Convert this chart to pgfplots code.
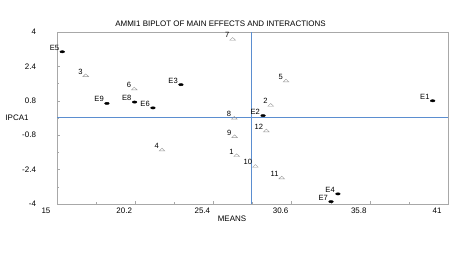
\documentclass[border=0pt]{standalone}
\usepackage{pgfplots}
\pgfplotsset{compat=1.18}
\usepackage{pgfplotstable}
\usepackage{fontspec}
\setmainfont{Liberation Sans}
\definecolor{refblue}{RGB}{91,142,208}
\definecolor{axframe}{RGB}{168,168,168}
\definecolor{trigray}{RGB}{154,154,154}
\pgfplotstableread{
x y lab
16.91 1.97 3
20.14 1.35 6
26.68 3.66 7
30.23 1.72 5
29.21 0.59 2
26.79 -0.01 8
28.92 -0.60 12
26.81 -0.87 9
26.95 -1.75 1
28.19 -2.25 10
29.94 -2.79 11
21.98 -1.49 4
}\genotypes
\pgfplotstableread{
x y lab
15.35 3.08 E5
23.24 1.55 E3
18.32 0.68 E9
20.16 0.74 E8
21.38 0.47 E6
28.70 0.11 E2
39.98 0.80 E1
33.68 -3.53 E4
33.22 -3.89 E7
}\envs
\begin{document}
\begin{tikzpicture}[x=1bp,y=1bp]
\path[use as bounding box] (0,0) rectangle (473,253);
\begin{axis}[
  at={(57bp,49bp)}, anchor=south west,
  scale only axis, width=391bp, height=172bp,
  xmin=15, xmax=41, ymin=-4, ymax=4,
  xtick={15,20.2,25.4,30.6,35.8,41},
  xticklabels={15,20.2,25.4,30.6,35.8,41},
  ytick={-4,-2.4,-0.8,0.8,2.4,4},
  yticklabels={{-4\hspace{-4.3bp}},-2.4,-0.8,0.8,2.4,{4\hspace{-7bp}}},
  minor x tick num=1, minor y tick num=1,
  xtick pos=left, ytick pos=left,
  tick align=inside,
  major tick length=3bp, minor tick length=2bp,
  axis line style={color=axframe, line width=0.7bp},
  every tick/.style={color=axframe, line width=0.4bp},
  tick label style={font=\fontsize{8}{9.6}\selectfont, text=black},
  xticklabel style={xshift=-11bp},
  yticklabel style={xshift=-17.5bp},
  clip=false,
  every node near coord/.style={anchor=base east, inner sep=0pt, xshift=-3bp, yshift=1.5bp, font=\fontsize{7.6}{9}\selectfont, text=black},
]
\addplot[color=refblue, line width=1.2bp, no marks] coordinates {(27.94,-4) (27.94,4)};
\addplot[color=refblue, line width=1.2bp, no marks] coordinates {(15,0.03) (41,0.03)};
\addplot[only marks, mark=triangle, mark size=3.3bp, mark options={color=trigray, line width=0.4bp, yscale=0.55},
  nodes near coords, point meta=explicit symbolic] table[x=x, y=y, meta=lab] {\genotypes};
\addplot[only marks, mark=*, mark size=1.3bp, mark options={color=black, xscale=1.8, yscale=0.9},
  nodes near coords, point meta=explicit symbolic] table[x=x, y=y, meta=lab] {\envs};
\end{axis}
\node[font=\fontsize{8}{9.6}\selectfont] at (220.5,229.5) {AMMI1 BIPLOT OF MAIN EFFECTS AND INTERACTIONS};
\node[font=\fontsize{8}{9.6}\selectfont] at (17,135) {IPCA1};
\node[font=\fontsize{8}{9.6}\selectfont] at (232,34) {MEANS};
\end{tikzpicture}
\end{document}
